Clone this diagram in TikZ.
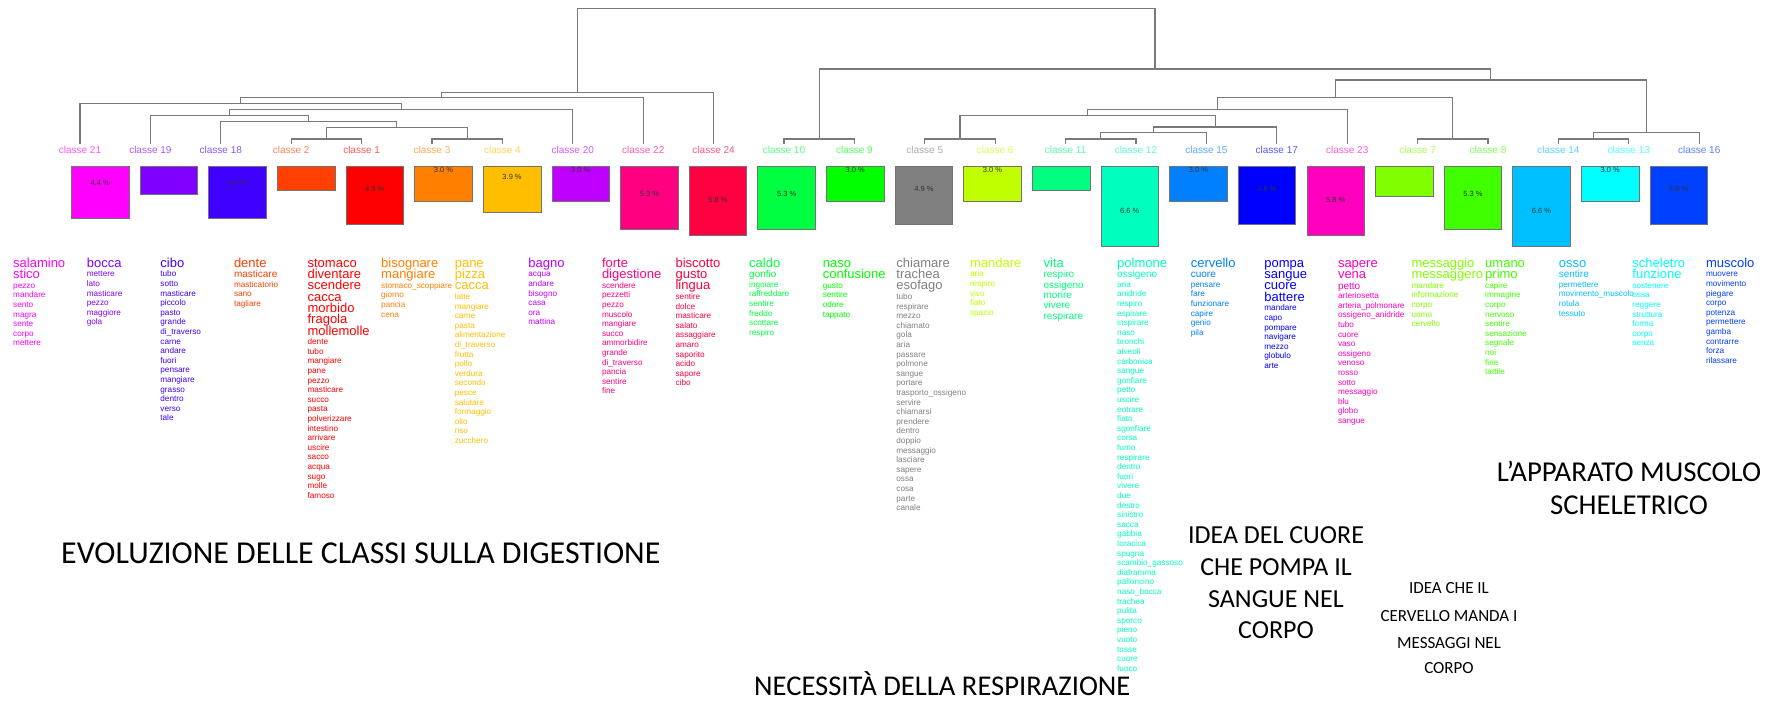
\documentclass[tikz,border=0pt]{standalone}
\usepackage{fontspec}
\setmainfont{Liberation Sans}
\newfontfamily\annfont{Carlito}
\definecolor{c0}{HTML}{FF00FF}
\definecolor{c1}{HTML}{8000FF}
\definecolor{c2}{HTML}{4000FF}
\definecolor{c3}{HTML}{FF4000}
\definecolor{c4}{HTML}{FF0000}
\definecolor{c5}{HTML}{FF8000}
\definecolor{c6}{HTML}{FFBF00}
\definecolor{c7}{HTML}{BF00FF}
\definecolor{c8}{HTML}{FF0080}
\definecolor{c9}{HTML}{FF0040}
\definecolor{c10}{HTML}{00FF40}
\definecolor{c11}{HTML}{00FF00}
\definecolor{c12}{HTML}{808080}
\definecolor{c13}{HTML}{BFFF00}
\definecolor{c14}{HTML}{00FF80}
\definecolor{c15}{HTML}{00FFBF}
\definecolor{c16}{HTML}{0080FF}
\definecolor{c17}{HTML}{0000FF}
\definecolor{c18}{HTML}{FF00BF}
\definecolor{c19}{HTML}{80FF00}
\definecolor{c20}{HTML}{40FF00}
\definecolor{c21}{HTML}{00BFFF}
\definecolor{c22}{HTML}{00FFFF}
\definecolor{c23}{HTML}{0040FF}
\definecolor{dendgray}{HTML}{7A7A7A}
\def\gapb{11.3}\def\gapm{10.4}\def\gaps{9.6}
\def\wfb{\fontsize{13}{13}\selectfont}
\def\wfm{\fontsize{10}{10}\selectfont}
\def\wfs{\fontsize{8.2}{8.2}\selectfont}
\tikzset{
  dend/.style={draw=dendgray,line width=1.1pt},
  clabel/.style={font=\fontsize{10}{10}\selectfont,inner sep=0pt},
  cbox/.style={draw=black!55,line width=0.7pt,minimum width=57.6pt,inner sep=0pt,anchor=north},
  pct/.style={font=\fontsize{7.5}{7.5}\selectfont,text=black!80,inner sep=0pt},
  word/.style={anchor=base west,inner sep=0pt},
  ann/.style={inner sep=0pt,text=black}
}
\newcommand\wordcol[4]{%
  \gdef\wy{256}%
  \foreach \wt/\ww [count=\k] in {#4}{%
    \pgfmathsetmacro\ny{\wy+\csname gap\wt\endcsname}%
    \global\let\wy\ny
    \node[word,text=#3,font=\csname wf\wt\endcsname] (w#1-\k) at (#2,\wy) {\ww};
  }%
}
\begin{document}
\begin{tikzpicture}[x=1pt,y={(0pt,-1pt)}]
\useasboundingbox[fill=white] (0,0) rectangle (1770,701);

% leaves and class labels
\foreach \i/\n in {0/21,1/19,2/18,3/2,4/1,5/3,6/4,7/20,8/22,9/24,10/10,11/9,12/5,13/6,14/11,15/12,16/15,17/17,18/23,19/7,20/8,21/14,22/13,23/16}{
  \pgfmathsetmacro\lx{80+70.4*\i}
  \coordinate (l\i) at (\lx,143.5);
  \node[clabel,text=c\i!65] (lab\i) at (\lx,149.5) {classe \n};
}

% merge points
\coordinate (a1) at (326.4,139);
\coordinate (a2) at (467.2,139);
\coordinate (a3) at (396.8,127.7);
\coordinate (a4) at (308.8,121.7);
\coordinate (a5) at (229.6,115.3);
\coordinate (a6) at (401.2,109.3);
\coordinate (a7) at (240.6,103.3);
\coordinate (a8) at (441.9,97.3);
\coordinate (a9) at (577.75,92.7);
\coordinate (b1) at (819.2,139);
\coordinate (b2) at (960,139);
\coordinate (b3) at (1100.8,139);
\coordinate (b4) at (1153.6,132.7);
\coordinate (b5) at (1215.2,127);
\coordinate (b6) at (1087.6,115.3);
\coordinate (b7) at (1217.4,109.3);
\coordinate (b8) at (1452.8,139);
\coordinate (b9) at (1335.1,97.7);
\coordinate (b10) at (1593.6,139);
\coordinate (b11) at (1646.4,132.7);
\coordinate (b12) at (1490.75,80);
\coordinate (b13) at (1154.98,69);
\coordinate (r) at (866.4,8.3);

\draw[dend] (l3) |- (a1) -| (l4);
\draw[dend] (l5) |- (a2) -| (l6);
\draw[dend] (a1) |- (a3) -| (a2);
\draw[dend] (l2) |- (a4) -| (a3);
\draw[dend] (l1) |- (a5) -| (a4);
\draw[dend] (a5) |- (a6) -| (l7);
\draw[dend] (l0) |- (a7) -| (a6);
\draw[dend] (a7) |- (a8) -| (l8);
\draw[dend] (a8) |- (a9) -| (l9);
\draw[dend] (l10) |- (b1) -| (l11);
\draw[dend] (l12) |- (b2) -| (l13);
\draw[dend] (l14) |- (b3) -| (l15);
\draw[dend] (b3) |- (b4) -| (l16);
\draw[dend] (b4) |- (b5) -| (l17);
\draw[dend] (b2) |- (b6) -| (b5);
\draw[dend] (b6) |- (b7) -| (l18);
\draw[dend] (l19) |- (b8) -| (l20);
\draw[dend] (b7) |- (b9) -| (b8);
\draw[dend] (l21) |- (b10) -| (l22);
\draw[dend] (b10) |- (b11) -| (l23);
\draw[dend] (b9) |- (b12) -| (b11);
\draw[dend] (b1) |- (b13) -| (b12);
\draw[dend] (a9) |- (r) -| (b13);

% boxes
\foreach \i/\b in {0/218.3,1/194.3,2/218.3,3/190,4/224,5/201.3,6/212,7/201.3,8/229.3,9/235,10/229.3,11/201.3,12/224,13/201.3,14/190,15/246,16/200.7,17/224,18/235,19/195.7,20/229.3,21/246,22/201.3,23/224}{
  \pgfmathsetmacro\bx{100.3+68.63*\i}
  \pgfmathsetmacro\bh{\b-166}
  \node[cbox,fill=c\i,minimum height=\bh pt] (box\i) at (\bx,166) {};
}
% percentages
\foreach \i/\b/\p in {0/218.3/4.4,2/218.3/4.4,4/224/4.9,5/201.3/3.0,6/212/3.9,7/201.3/3.0,8/229.3/5.3,9/235/5.8,10/229.3/5.3,11/201.3/3.0,12/224/4.9,13/201.3/3.0,15/246/6.6,16/200.7/3.0,17/224/4.9,18/235/5.8,20/229.3/5.3,21/246/6.6,22/201.3/3.0,23/224/4.9}{
  \pgfmathsetmacro\bx{100.3+68.63*\i}
  \pgfmathsetmacro\py{max(\b-35,169.5)}
  \node[pct] (pct\i) at (\bx,\py) {\p~\%};
}

% word lists
\wordcol{0}{13}{c0}{b/salamino,b/stico,s/pezzo,s/mandare,s/sento,s/magra,s/sente,s/corpo,s/mettere}
\wordcol{1}{86.6}{c1}{b/bocca,s/mettere,s/lato,s/masticare,s/pezzo,s/maggiore,s/gola}
\wordcol{2}{160.2}{c2}{b/cibo,s/tubo,s/sotto,s/masticare,s/piccolo,s/pasto,s/grande,s/di\_traverso,s/carne,s/andare,s/fuori,s/pensare,s/mangiare,s/grasso,s/dentro,s/verso,s/tale}
\wordcol{3}{233.8}{c3}{b/dente,m/masticare,s/masticatorio,s/sano,s/tagliare}
\wordcol{4}{307.4}{c4}{b/stomaco,b/diventare,b/scendere,b/cacca,b/morbido,b/fragola,b/mollemolle,s/dente,s/tubo,s/mangiare,s/pane,s/pezzo,s/masticare,s/succo,s/pasta,s/polverizzare,s/intestino,s/arrivare,s/uscire,s/sacco,s/acqua,s/sugo,s/molle,s/famoso}
\wordcol{5}{381}{c5}{b/bisognare,b/mangiare,s/stomaco\_scoppiare,s/giorno,s/pancia,s/cena}
\wordcol{6}{454.6}{c6}{b/pane,b/pizza,b/cacca,s/latte,s/mangiare,s/carne,s/pasta,s/alimentazione,s/di\_traverso,s/frutta,s/pollo,s/verdura,s/secondo,s/pesce,s/salutare,s/formaggio,s/olio,s/riso,s/zucchero}
\wordcol{7}{528.2}{c7}{b/bagno,s/acqua,s/andare,s/bisogno,s/casa,s/ora,s/mattina}
\wordcol{8}{601.8}{c8}{b/forte,b/digestione,s/scendere,s/pezzetti,s/pezzo,s/muscolo,s/mangiare,s/succo,s/ammorbidire,s/grande,s/di\_traverso,s/pancia,s/sentire,s/fine}
\wordcol{9}{675.4}{c9}{b/biscotto,b/gusto,b/lingua,s/sentire,s/dolce,s/masticare,s/salato,s/assaggiare,s/amaro,s/saporito,s/acido,s/sapore,s/cibo}
\wordcol{10}{749}{c10}{b/caldo,m/gonfio,s/ingoiare,s/raffreddare,s/sentire,s/freddo,s/scottare,s/respiro}
\wordcol{11}{822.6}{c11}{b/naso,b/confusione,s/gusto,s/sentire,s/odore,s/tappato}
\wordcol{12}{896.2}{c12}{b/chiamare,b/trachea,b/esofago,s/tubo,s/respirare,s/mezzo,s/chiamato,s/gola,s/aria,s/passare,s/polmone,s/sangue,s/portare,s/trasporto\_ossigeno,s/servire,s/chiamarsi,s/prendere,s/dentro,s/doppio,s/messaggio,s/lasciare,s/sapere,s/ossa,s/cosa,s/parte,s/canale}
\wordcol{13}{969.8}{c13}{b/mandare,s/aria,s/respiro,s/vivo,s/fiato,s/spazio}
\wordcol{14}{1043.4}{c14}{b/vita,m/respiro,m/ossigeno,m/morire,m/vivere,m/respirare}
\wordcol{15}{1117}{c15}{b/polmone,m/ossigeno,s/aria,s/anidride,s/respiro,s/espirare,s/inspirare,s/naso,s/bronchi,s/alveoli,s/carbonica,s/sangue,s/gonfiare,s/petto,s/uscire,s/entrare,s/fiato,s/sgonfiare,s/corsa,s/fumo,s/respirare,s/dentro,s/fuori,s/vivere,s/due,s/destro,s/sinistro,s/sacca,s/gabbia,s/toracica,s/spugna,s/scambio\_gassoso,s/diaframma,s/palloncino,s/naso\_bocca,s/trachea,s/pulita,s/sporco,s/pieno,s/vuoto,s/tosse,s/cuore,s/fuoco}
\wordcol{16}{1190.6}{c16}{b/cervello,m/cuore,s/pensare,s/fare,s/funzionare,s/capire,s/genio,s/pila}
\wordcol{17}{1264.2}{c17}{b/pompa,b/sangue,b/cuore,b/battere,s/mandare,s/capo,s/pompare,s/navigare,s/mezzo,s/globulo,s/arte}
\wordcol{18}{1337.8}{c18}{b/sapere,b/vena,m/petto,s/arteriosetta,s/arteria\_polmonare,s/ossigeno\_anidride,s/tubo,s/cuore,s/vaso,s/ossigeno,s/venoso,s/rosso,s/sotto,s/messaggio,s/blu,s/globo,s/sangue}
\wordcol{19}{1411.4}{c19}{b/messaggio,b/messaggero,s/mandare,s/informazione,s/corpo,s/uomo,s/cervello}
\wordcol{20}{1485}{c20}{b/umano,b/primo,s/capire,s/immagine,s/corpo,s/nervoso,s/sentire,s/sensazione,s/segnale,s/noi,s/fine,s/tattile}
\wordcol{21}{1558.6}{c21}{b/osso,m/sentire,s/permettere,s/movimento\_muscolo,s/rotula,s/tessuto}
\wordcol{22}{1632.2}{c22}{b/scheletro,b/funzione,s/sostenere,s/ossa,s/reggere,s/struttura,s/forma,s/corpo,s/senza}
\wordcol{23}{1705.8}{c23}{b/muscolo,s/muovere,s/movimento,s/piegare,s/corpo,s/potenza,s/permettere,s/gamba,s/contrarre,s/forza,s/rilassare}

% annotations
\node[ann,anchor=base west,font=\annfont\fontsize{31.9}{31.9}\selectfont] (evo) at (61,563) {EVOLUZIONE DELLE CLASSI SULLA DIGESTIONE};
\node[ann,anchor=base west,font=\annfont\fontsize{28.6}{28.6}\selectfont] (resp) at (754,695) {NECESSITÀ DELLA RESPIRAZIONE};
\node[ann,anchor=base,font=\annfont\fontsize{26}{26}\selectfont] (cuore1) at (1276,543) {IDEA DEL CUORE};
\node[ann,anchor=base,font=\annfont\fontsize{26}{26}\selectfont] (cuore2) at (1276,575) {CHE POMPA IL};
\node[ann,anchor=base,font=\annfont\fontsize{26}{26}\selectfont] (cuore3) at (1276,607) {SANGUE NEL};
\node[ann,anchor=base,font=\annfont\fontsize{26}{26}\selectfont] (cuore4) at (1276,638) {CORPO};
\node[ann,anchor=base,font=\annfont\fontsize{17}{17}\selectfont] (cerv1) at (1449,593.5) {IDEA CHE IL};
\node[ann,anchor=base,font=\annfont\fontsize{17}{17}\selectfont] (cerv2) at (1449,621.5) {CERVELLO MANDA I};
\node[ann,anchor=base,font=\annfont\fontsize{17}{17}\selectfont] (cerv3) at (1449,648.5) {MESSAGGI NEL};
\node[ann,anchor=base,font=\annfont\fontsize{17}{17}\selectfont] (cerv4) at (1449,673.5) {CORPO};
\node[ann,anchor=base,font=\annfont\fontsize{28.8}{28.8}\selectfont] (musc1) at (1629,481) {L’APPARATO MUSCOLO};
\node[ann,anchor=base,font=\annfont\fontsize{28.8}{28.8}\selectfont] (musc2) at (1629,514) {SCHELETRICO};
\end{tikzpicture}
\end{document}
